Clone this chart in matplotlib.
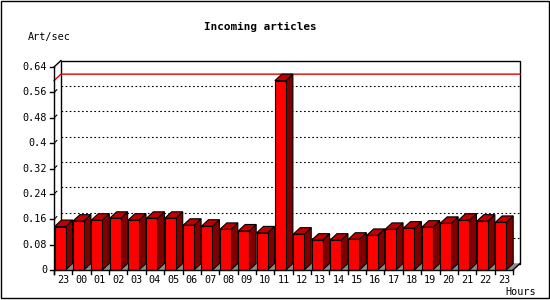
import matplotlib
matplotlib.use("Agg")
import matplotlib.pyplot as plt
from matplotlib.patches import Polygon, Rectangle

hours = ["23", "00", "01", "02", "03", "04", "05", "06", "07", "08", "09", "10", "11",
         "12", "13", "14", "15", "16", "17", "18", "19", "20", "21", "22", "23"]
rate = [0.137, 0.154, 0.157, 0.163, 0.157, 0.163, 0.163, 0.141, 0.138, 0.128, 0.123, 0.117, 0.597,
        0.113, 0.094, 0.094, 0.097, 0.109, 0.128, 0.132, 0.135, 0.147, 0.157, 0.154, 0.150]
yticks = [0, 0.08, 0.16, 0.24, 0.32, 0.4, 0.48, 0.56, 0.64]

FONT = "DejaVu Sans Mono"
W, H = 550, 300
fig = plt.figure(figsize=(W / 100, H / 100), dpi=100)
fig.patch.set_facecolor("white")

# plot box in pixels (front plane)
x0, x1, yb, yt = 54, 513, 270, 67
ax = fig.add_axes([x0 / W, (H - yb) / H, (x1 - x0) / W, (yb - yt) / H])
n = len(rate)
ymax = 0.64
ax.set_xlim(0, n); ax.set_ylim(0, ymax)
ax.axis("off")

pxx = (x1 - x0) / n          # px per slot
pxy = (yb - yt) / ymax       # px per unit
dx = 7 / pxx                 # depth offset in data units
dy = 6.5 / pxy

# back wall + floor
ax.add_patch(Rectangle((dx, dy), n, ymax, facecolor="white", edgecolor="black", lw=1, clip_on=False, zorder=1))
ax.add_patch(Polygon([(0, 0), (n, 0), (n + dx, dy), (dx, dy)], closed=True, facecolor="#8c8c8c",
                     edgecolor="none", clip_on=False, zorder=1.5))
# dotted grid on back wall
for v in yticks[1:-1]:
    ax.plot([dx, n + dx], [v + dy, v + dy], color="black", lw=0.8, ls=(0, (1.5, 2.2)),
            clip_on=False, zorder=2)
    ax.plot([dx * 0.15, dx * 0.4], [v + dy * 0.15, v + dy * 0.4], color="black", lw=0.8, clip_on=False, zorder=2)
# max line
mx = max(rate)
ax.plot([0, dx, n + dx], [mx, mx + dy, mx + dy], color="#e00000", lw=1, clip_on=False, zorder=2)
# top-left diagonal
ax.plot([0, dx], [ymax, ymax + dy], color="black", lw=1, clip_on=False, zorder=2)

# bars
fw = 0.6
for i, v in enumerate(rate):
    a = i + 0.03
    b = a + fw
    ax.add_patch(Polygon([(b, 0), (b + dx, dy), (b + dx, v + dy), (b, v)], closed=True,
                         facecolor="#800000", edgecolor="black", lw=0.8, clip_on=False, zorder=3))
    ax.add_patch(Polygon([(a, v), (b, v), (b + dx, v + dy), (a + dx, v + dy)], closed=True,
                         facecolor="#c00000", edgecolor="black", lw=0.8, clip_on=False, zorder=3))
    ax.add_patch(Rectangle((a, 0), fw, v, facecolor="#ff0000", edgecolor="black", lw=0.8,
                           clip_on=False, zorder=3))

# floor front edge and right diagonal
ax.plot([0, n], [0, 0], color="black", lw=1, clip_on=False, zorder=4)
ax.plot([n, n + dx], [0, dy], color="black", lw=1, clip_on=False, zorder=4)
# front y axis
ax.plot([0, 0], [-4 / pxy, ymax], color="black", lw=1, clip_on=False, zorder=4)

# y ticks and labels
for v in yticks:
    ax.plot([-4 / pxx, 0], [v, v], color="black", lw=1, clip_on=False, zorder=4)
    ax.annotate(f"{v:g}", (0, v), xytext=(-7, 0), textcoords="offset pixels", ha="right",
                va="center", fontsize=7.3, family=FONT)
# x ticks and labels
for i in range(n + 1):
    ax.plot([i, i], [0, -4 / pxy], color="black", lw=1, clip_on=False, zorder=4)
for i, h in enumerate(hours):
    ax.annotate(h, (i + 0.5, 0), xytext=(0, -5), textcoords="offset pixels", ha="center",
                va="top", fontsize=7.3, family=FONT)

fig.text(260 / W, 1 - 27 / H, "Incoming articles", ha="center", va="center", fontsize=7.9,
         family=FONT, fontweight="bold")
fig.text(28 / W, 1 - 37 / H, "Art/sec", ha="left", va="center", fontsize=7.3, family=FONT)
fig.text(505 / W, 1 - 292 / H, "Hours", ha="left", va="center", fontsize=7.3, family=FONT)

# outer frame
fig.patches.append(Rectangle((0.5 / W, 2.5 / H), 548 / W, 297 / H, transform=fig.transFigure,
                             fill=False, edgecolor="black", lw=1))

fig.savefig("out.png", dpi=100, facecolor="white")
